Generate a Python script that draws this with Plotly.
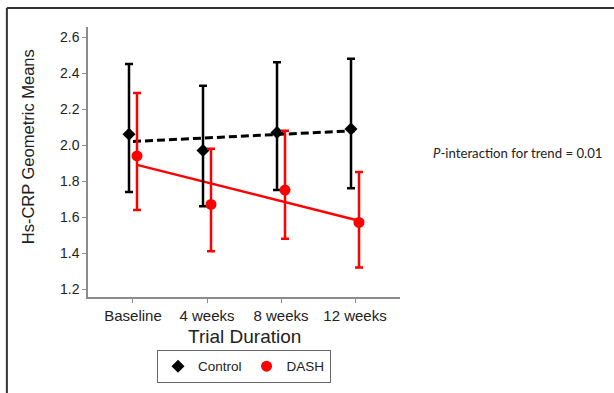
import plotly.graph_objects as go

categories = ["Baseline", "4 weeks", "8 weeks", "12 weeks"]
control_mean = [2.06, 1.97, 2.07, 2.09]
control_upper = [2.45, 2.33, 2.46, 2.48]
control_lower = [1.74, 1.66, 1.75, 1.76]
dash_mean = [1.94, 1.67, 1.75, 1.57]
dash_upper = [2.29, 1.98, 2.08, 1.85]
dash_lower = [1.64, 1.41, 1.48, 1.32]
control_trend = [2.02, 2.08]   # fitted line at Baseline and 12 weeks
dash_trend = [1.89, 1.58]
y_ticks = [1.2, 1.4, 1.6, 1.8, 2.0, 2.2, 2.4, 2.6]

pos = list(range(len(categories)))
off = 0.054
cx = [p - off for p in pos]
dx = [p + off for p in pos]

fig = go.Figure()

fig.add_trace(go.Scatter(
    x=[pos[0], pos[-1]], y=control_trend, mode="lines", showlegend=False,
    line=dict(color="black", width=3, dash="8px,4px"), hoverinfo="skip",
))
fig.add_trace(go.Scatter(
    x=[dx[0], dx[-1]], y=dash_trend, mode="lines", showlegend=False,
    line=dict(color="#ff0000", width=2.5), hoverinfo="skip",
))
fig.add_trace(go.Scatter(
    x=cx, y=control_mean, mode="markers", name="Control",
    marker=dict(symbol="diamond", size=10, color="black"),
    error_y=dict(type="data", symmetric=False,
                 array=[u - m for u, m in zip(control_upper, control_mean)],
                 arrayminus=[m - l for m, l in zip(control_mean, control_lower)],
                 color="black", thickness=2.5, width=4),
))
fig.add_trace(go.Scatter(
    x=dx, y=dash_mean, mode="markers", name="DASH",
    marker=dict(symbol="circle", size=11, color="#ff0000"),
    error_y=dict(type="data", symmetric=False,
                 array=[u - m for u, m in zip(dash_upper, dash_mean)],
                 arrayminus=[m - l for m, l in zip(dash_mean, dash_lower)],
                 color="#ff0000", thickness=2.5, width=4),
))

axis_color = "#8c8c8c"
fig.update_layout(
    width=614, height=393,
    margin=dict(l=88, r=214, t=27, b=96, autoexpand=False),
    paper_bgcolor="white", plot_bgcolor="white",
    font=dict(family="Liberation Sans, Arial", color="#222"),
    showlegend=True,
    legend=dict(orientation="h", x=0.5, xanchor="center", y=-0.196, yanchor="top",
                bordercolor="#666", borderwidth=1, font=dict(size=13.5, color="#222"),
                itemwidth=30, tracegroupgap=0),
    xaxis=dict(range=[-0.608, 3.608], tickvals=pos, ticktext=categories, automargin=False,
               showgrid=False, zeroline=False, showline=True, linecolor=axis_color, linewidth=1.5,
               ticks="outside", ticklen=4, tickcolor=axis_color,
               tickfont=dict(size=15, color="#222")),
    yaxis=dict(range=[1.156, 2.656], tickvals=y_ticks, tickformat=".1f", automargin=False,
               showgrid=False, zeroline=False, showline=True, linecolor=axis_color, linewidth=1.5,
               ticks="outside", ticklen=4, tickcolor=axis_color,
               tickfont=dict(size=14, color="#222")),
)

# axis titles
fig.add_annotation(
    xref="paper", yref="paper", x=-0.192, y=0.555, xanchor="center", yanchor="middle",
    text="Hs-CRP Geometric Means", textangle=-90, showarrow=False,
    font=dict(family="Liberation Sans, Arial", size=16.5, color="#222"),
)
fig.add_annotation(
    xref="paper", yref="paper", x=0.5, y=-0.148, xanchor="center", yanchor="middle",
    text="Trial Duration", showarrow=False,
    font=dict(family="Liberation Sans, Arial", size=19, color="#222"),
)

fig.add_annotation(
    xref="paper", yref="paper", x=1.1, y=0.533, xanchor="left", yanchor="middle",
    text="<i>P</i>-interaction for trend = 0.01", showarrow=False,
    font=dict(family="Lato, Open Sans", size=13.2, color="#222"),
)

# outer frame (top and left edges)
fig.add_shape(type="line", xref="paper", yref="paper",
              x0=-0.26, x1=1.70, y0=1.07, y1=1.07, line=dict(color="#333", width=2))
fig.add_shape(type="line", xref="paper", yref="paper",
              x0=-0.26, x1=-0.26, y0=1.07, y1=-0.40, line=dict(color="#333", width=2))

fig.write_html("out.html", config={"displayModeBar": False},
               post_script="document.body.style.margin='0';document.body.style.overflow='hidden';")
